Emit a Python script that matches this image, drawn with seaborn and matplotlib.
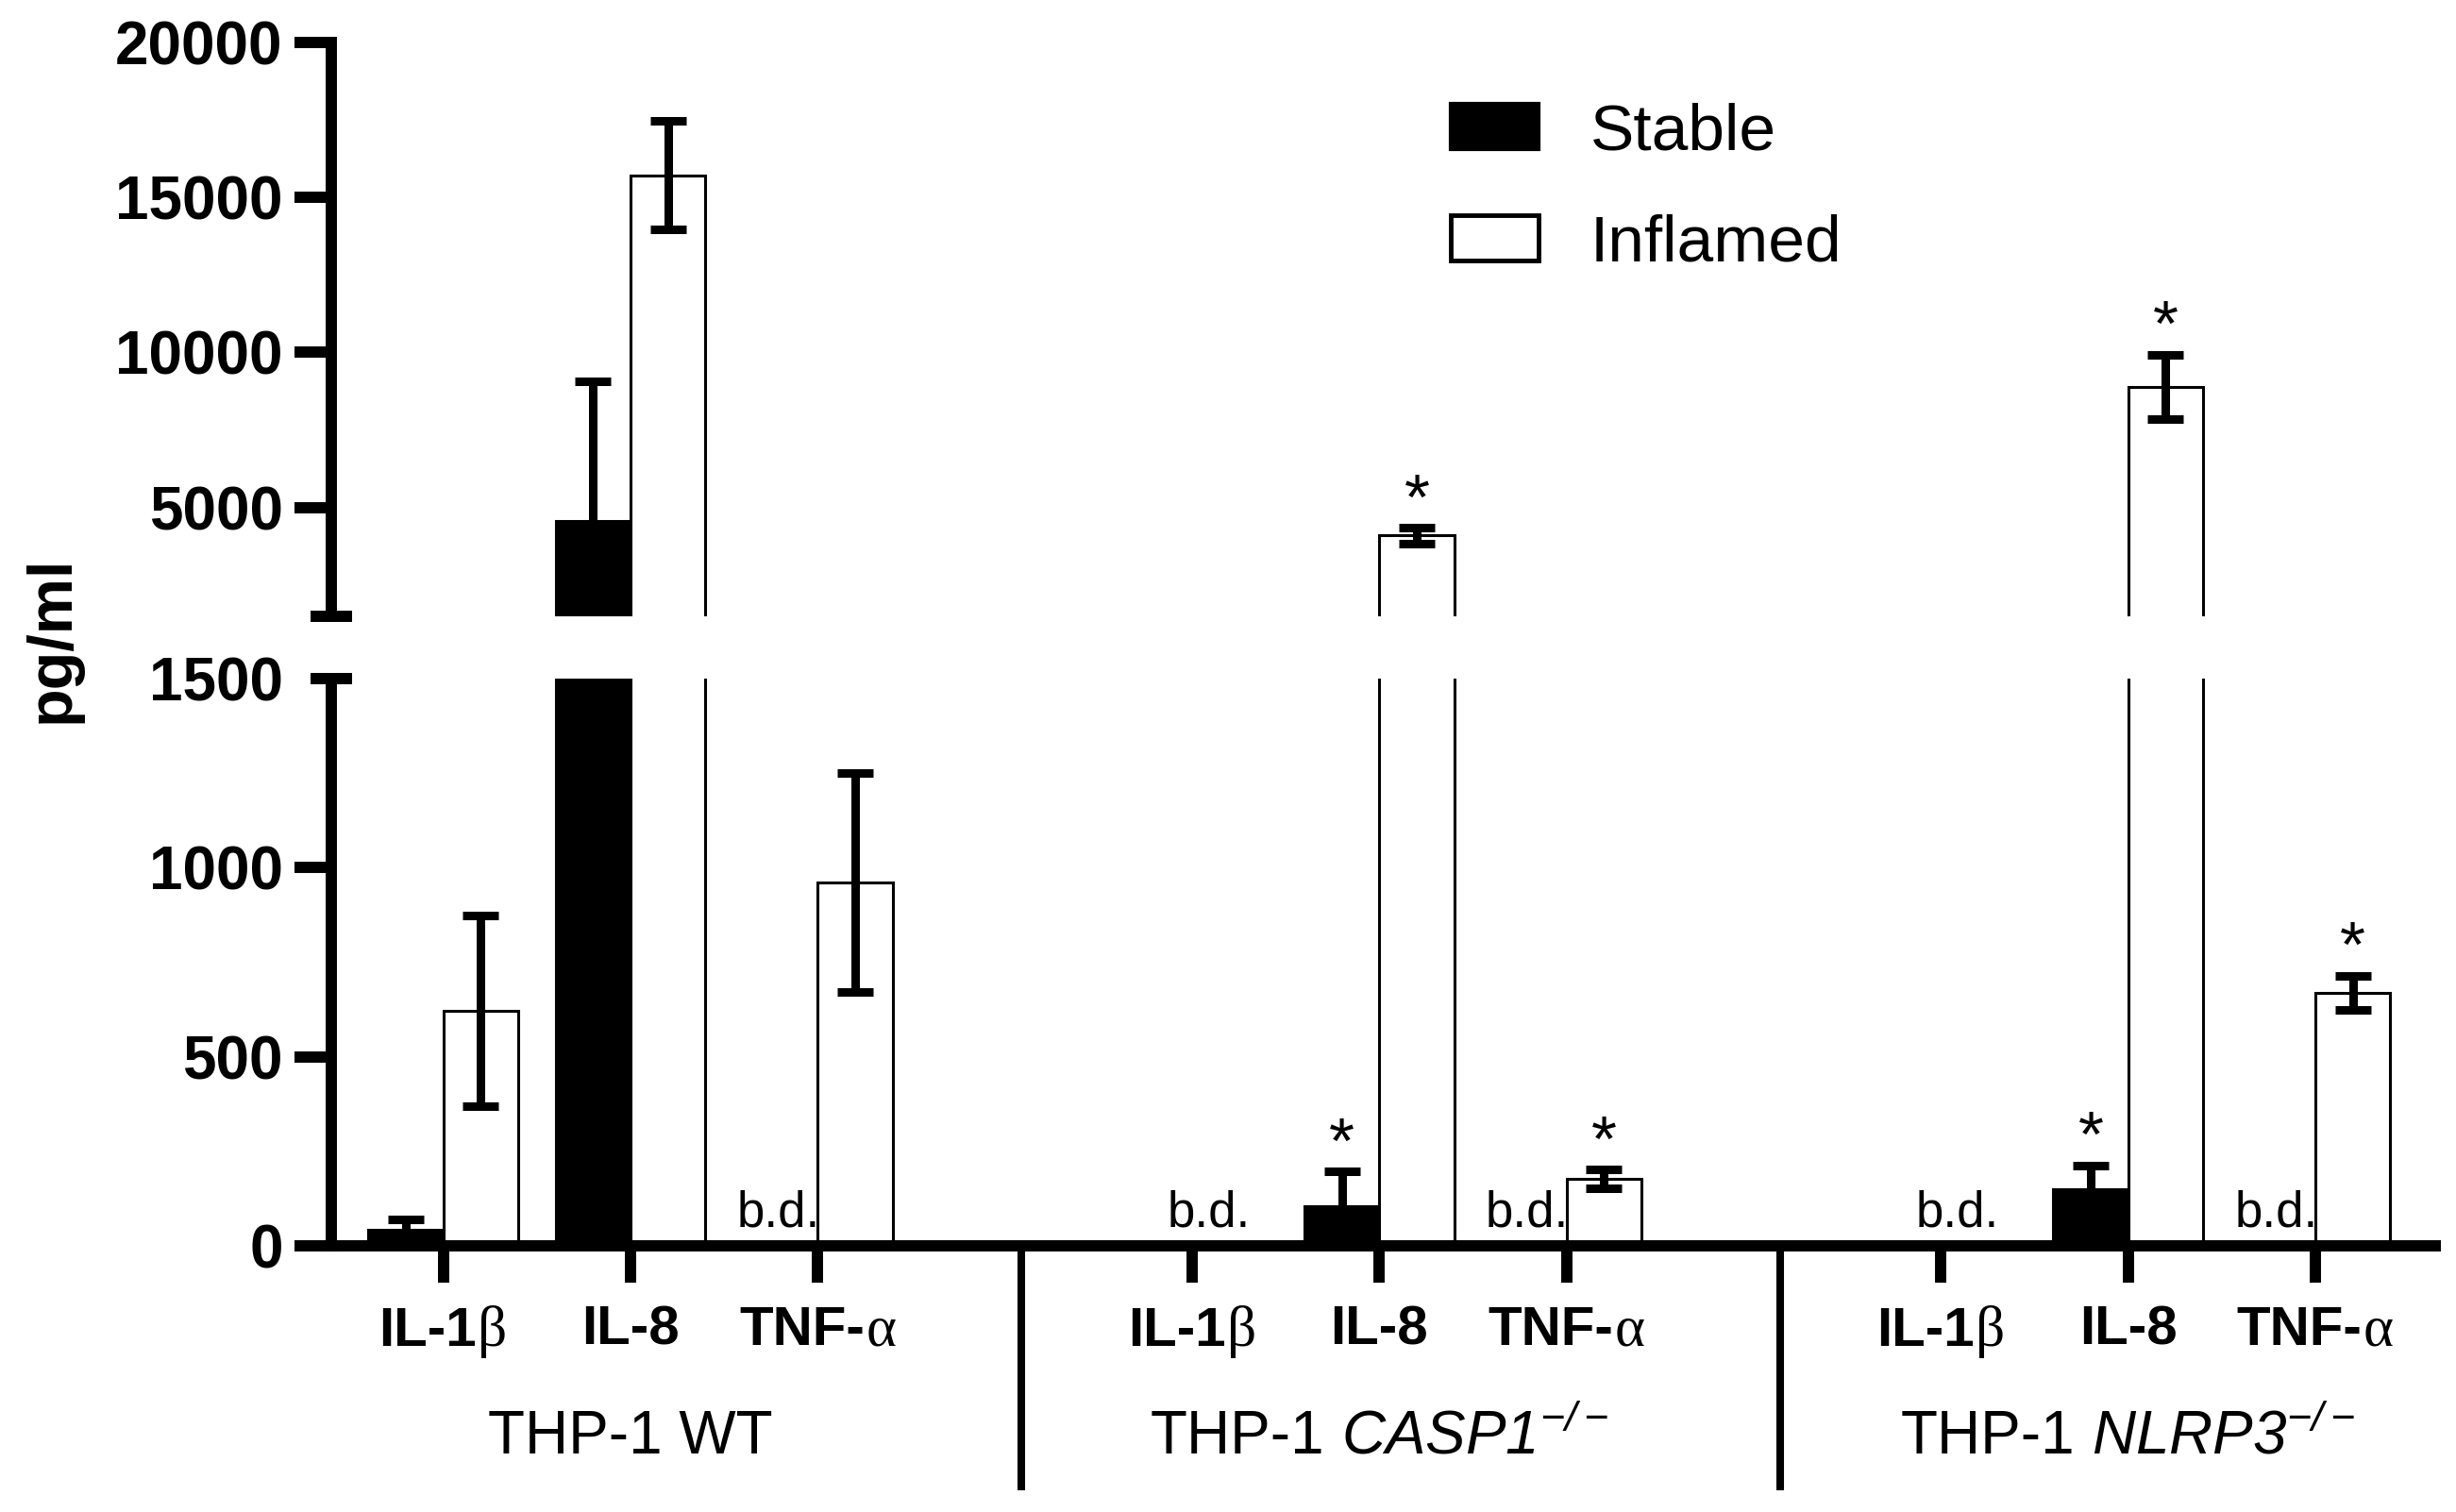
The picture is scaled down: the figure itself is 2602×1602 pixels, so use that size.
import numpy as np
import pandas as pd
import matplotlib
matplotlib.use("Agg")
import matplotlib.pyplot as plt
import seaborn as sns
from matplotlib.patches import Patch
from matplotlib.offsetbox import TextArea, HPacker, AnnotationBbox

# values (pg/ml); 0 means below detection
cell_lines = ["WT", "CASP1", "NLRP3"]
cytokines = ["IL-1", "IL-8", "TNF-"]
greek = ["β", "", "α"]
stable_mean = [43, 4560, 0, 0, 105, 0, 0, 150, 0]
stable_err = [28, 4505, 0, 0, 92, 0, 0, 63, 0]
inflamed_mean = [621, 15712, 961, 0, 4100, 177, 0, 8890, 670]
inflamed_err = [252, 1740, 289, 0, 250, 25, 0, 1030, 45]
below_detection = ["", "", "stable", "both", "", "stable", "both", "", "stable"]
star_stable = [0, 0, 0, 0, 1, 0, 0, 1, 0]
star_inflamed = [0, 0, 0, 0, 1, 1, 0, 1, 1]

keys = [f"{c} {k}" for c in cell_lines for k in cytokines]
order = keys[0:3] + ["gap1"] + keys[3:6] + ["gap2"] + keys[6:9]
pos = {k: i for i, k in enumerate(order)}

df = pd.DataFrame({
    "key": keys * 2,
    "condition": ["Stable"] * 9 + ["Inflamed"] * 9,
    "value": stable_mean + inflamed_mean,
})

sns.set_theme(style="ticks", rc={"axes.edgecolor": "black", "xtick.color": "black",
                                 "ytick.color": "black", "text.color": "black"})
plt.rcParams["font.family"] = ["Liberation Sans", "DejaVu Sans"]
plt.rcParams["mathtext.fontset"] = "custom"
plt.rcParams["mathtext.rm"] = "Liberation Sans"
plt.rcParams["mathtext.it"] = "Liberation Sans:italic"
plt.rcParams["mathtext.sf"] = "Liberation Sans:italic"
plt.rcParams["mathtext.bf"] = "Liberation Sans:bold"

LW = 8.6
fig = plt.figure(figsize=(26.02, 16.02), dpi=100)
ax_top = fig.add_axes([0.1349, 0.5924, 0.8566, 0.3798])
ax_bot = fig.add_axes([0.1349, 0.1760, 0.8566, 0.3752])

palette = {"Stable": "black", "Inflamed": "white"}
for ax in (ax_top, ax_bot):
    sns.barplot(data=df, x="key", y="value", hue="condition", order=order,
                hue_order=["Stable", "Inflamed"], palette=palette, saturation=1,
                edgecolor="black", linewidth=2.2, errorbar=None, width=0.8,
                legend=False, ax=ax)
    for means, errs, off in ((stable_mean, stable_err, -0.2),
                             (inflamed_mean, inflamed_err, 0.2)):
        xs = [pos[k] + off for k, m in zip(keys, means) if m > 0]
        ys = [m for m in means if m > 0]
        es = [e for m, e in zip(means, errs) if m > 0]
        ax.errorbar(xs, ys, yerr=es, fmt="none", ecolor="black", elinewidth=6.5,
                    capsize=14, capthick=6.5, zorder=3)
    ax.set_xlabel("")
    ax.set_ylabel("")
    ax.spines["top"].set_visible(False)
    ax.spines["right"].set_visible(False)
    ax.spines["left"].set_linewidth(LW)
    ax.spines["bottom"].set_linewidth(LW)
    ax.tick_params(axis="y", length=28, width=LW, pad=9, labelsize=46)
    # break marks
    ax.plot([0], [1500], marker="_", markersize=31, mew=LW, color="black",
            transform=ax.get_yaxis_transform(), clip_on=False)

# stars
for means, errs, flags, off in ((stable_mean, stable_err, star_stable, -0.2),
                                (inflamed_mean, inflamed_err, star_inflamed, 0.2)):
    for k, m, e, f in zip(keys, means, errs, flags):
        if f:
            top = m + e
            ax = ax_top if top > 1500 else ax_bot
            ax.annotate("*", xy=(pos[k] + off, top), xytext=(0, 7),
                        textcoords="offset points", ha="center", va="baseline",
                        fontsize=50, annotation_clip=False)

# b.d. labels
for k, bd in zip(keys, below_detection):
    if bd:
        x = pos[k] - 0.21 if bd == "stable" else pos[k] + 0.09
        ax_bot.annotate("b.d.", xy=(x, 0), xytext=(0, 15), textcoords="offset points",
                        ha="center", va="baseline", fontsize=38)

ax_top.spines["bottom"].set_visible(False)
ax_top.tick_params(axis="x", bottom=False, labelbottom=False)
ax_top.set_ylim(1500, 20000)
ax_top.set_yticks([5000, 10000, 15000, 20000])
ax_top.set_yticklabels(["5000", "10000", "15000", "20000"], fontweight="bold")

ax_bot.set_ylim(0, 1500)
ax_bot.set_yticks([0, 500, 1000, 1500])
ax_bot.set_yticklabels(["0", "500", "1000", "1500"], fontweight="bold")
ax_bot.yaxis.get_major_ticks()[-1].tick1line.set_visible(False)
ax_bot.set_xticks([pos[k] for k in keys])
ax_bot.set_xticklabels([])
ax_bot.tick_params(axis="x", length=28, width=LW)

for ax in (ax_top, ax_bot):
    ax.set_xlim(-0.598, 10.64)

# cytokine tick labels (bold text + regular greek letter)
for i, k in enumerate(keys):
    j = i % 3
    parts = [TextArea(cytokines[j], textprops=dict(fontsize=42, fontweight="bold"))]
    if greek[j]:
        parts.append(TextArea(greek[j], textprops=dict(fontsize=44, family="Liberation Serif")))
    box = HPacker(children=parts, align="baseline", pad=0, sep=1)
    ab = AnnotationBbox(box, (pos[k], 0), xycoords=ax_bot.get_xaxis_transform(),
                        xybox=(0, -45), boxcoords="offset points", box_alignment=(0.5, 1),
                        frameon=False, pad=0, annotation_clip=False)
    ax_bot.add_artist(ab)

# cell line labels
group_texts = [("THP-1 WT", None), ("THP-1", r"$\mathsf{CASP1}^{\mathsf{-/-}}$"),
               ("THP-1", r"$\mathsf{NLRP3}^{\mathsf{-/-}}$")]
for c, (plain, gene) in zip(cell_lines, group_texts):
    parts = [TextArea(plain, textprops=dict(fontsize=46))]
    if gene:
        parts.append(TextArea(gene, textprops=dict(fontsize=46)))
    box = HPacker(children=parts, align="baseline", pad=0, sep=13)
    ab = AnnotationBbox(box, (pos[f"{c} IL-8"], 0), xycoords=ax_bot.get_xaxis_transform(),
                        xybox=(0, -168), boxcoords="offset points", box_alignment=(0.5, 0),
                        frameon=False, pad=0, annotation_clip=False)
    ax_bot.add_artist(ab)

# group separators
for xsep in (3.09, 7.14):
    ax_bot.plot([xsep, xsep], [0, -0.431], color="black", lw=5.8, solid_capstyle="butt",
                transform=ax_bot.get_xaxis_transform(), clip_on=False)

fig.text(0.0215, 0.577, "pg/ml", rotation=90, ha="center", va="center",
         fontsize=48, fontweight="bold")

handles = [Patch(facecolor="black", edgecolor="black", linewidth=3),
           Patch(facecolor="white", edgecolor="black", linewidth=3.5)]
ax_top.legend(handles, ["Stable", "Inflamed"], loc="center left",
              bbox_to_anchor=(0.5907, 0.8755), bbox_transform=fig.transFigure,
              frameon=False, fontsize=50, handlelength=1.34, handleheight=0.68,
              handletextpad=0.79, labelspacing=0.78, borderpad=0, borderaxespad=0)

fig.savefig("out.png", dpi=100)
